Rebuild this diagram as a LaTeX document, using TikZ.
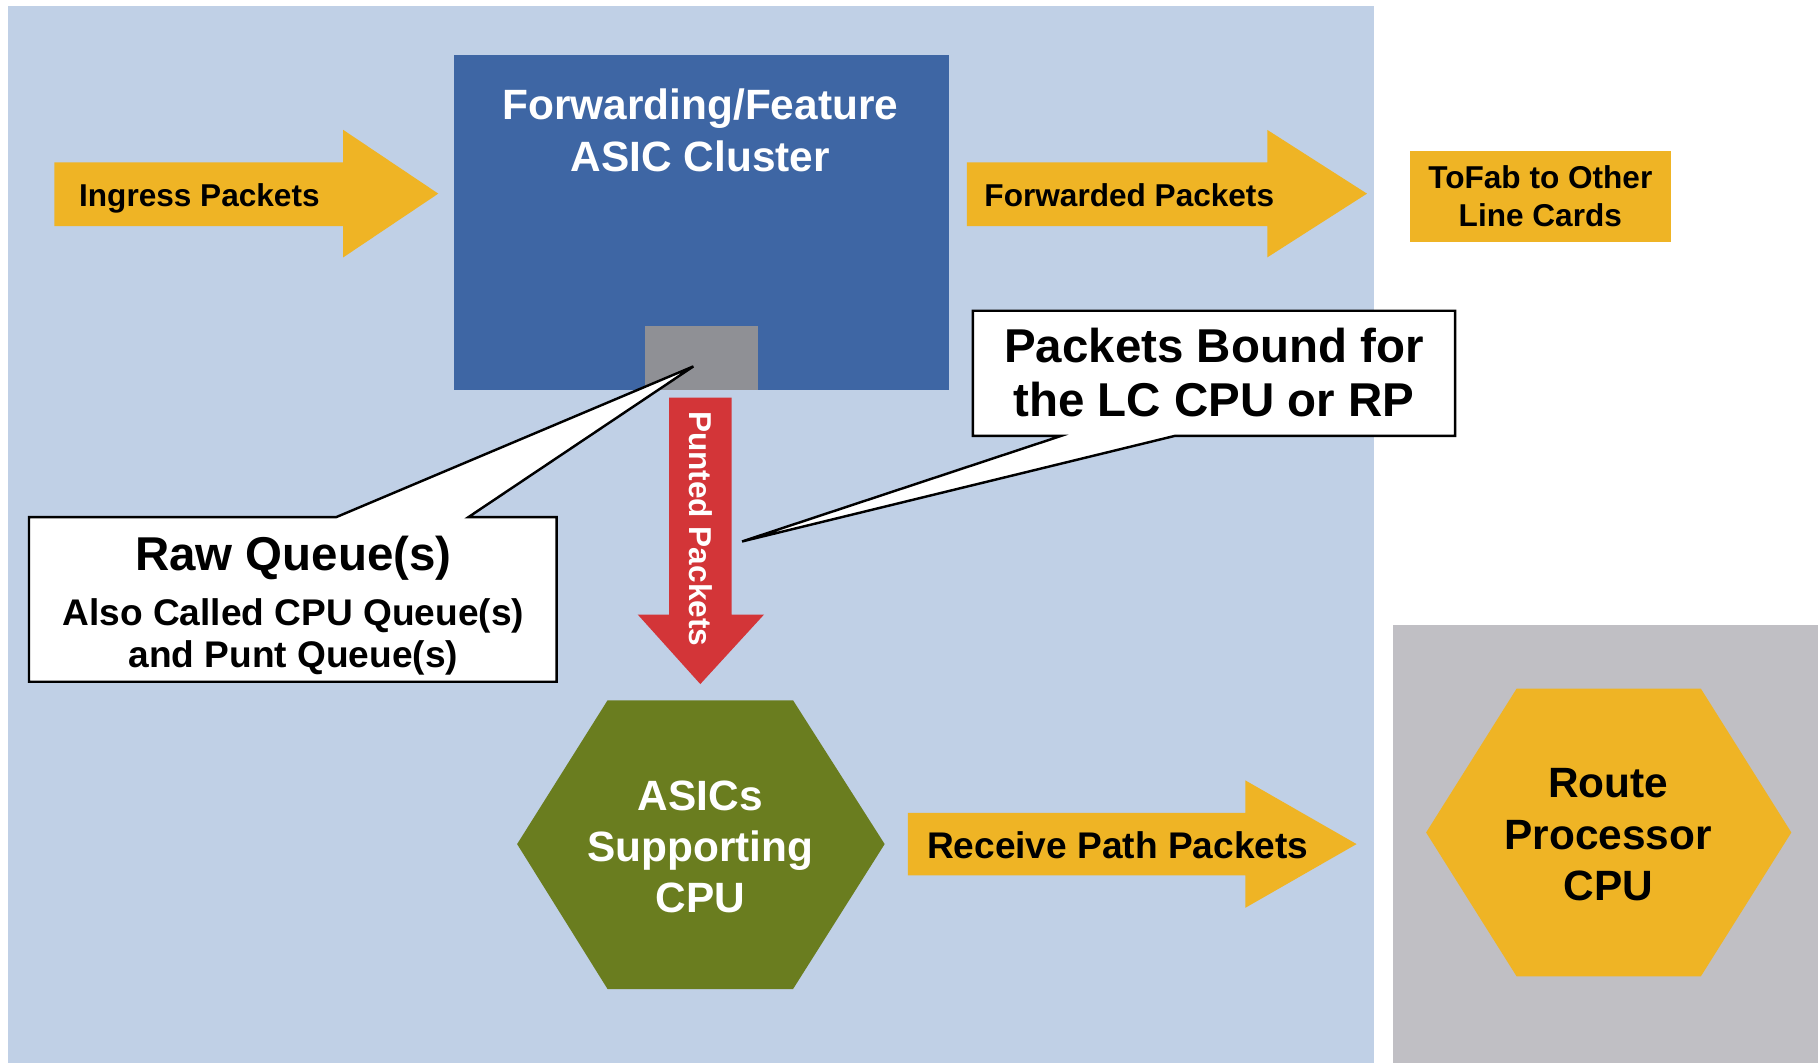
\documentclass[tikz,border=0pt]{standalone}
\usepackage{fontspec}
\setmainfont{Liberation Sans}
\usetikzlibrary{positioning}

\definecolor{fondbleu}{RGB}{192,208,230}
\definecolor{fondgris}{RGB}{192,191,196}
\definecolor{bleuasic}{RGB}{62,102,164}
\definecolor{grisqueue}{RGB}{143,144,149}
\definecolor{orangefl}{RGB}{239,180,37}
\definecolor{rougefl}{RGB}{211,53,56}
\definecolor{vertcpu}{RGB}{106,125,31}

\begin{document}
\begin{tikzpicture}[x=0.2mm, y=-0.2mm,
  petit/.style={font=\fontsize{15.5}{18.8}\selectfont\bfseries},
  moyen/.style={font=\fontsize{18.2}{20.5}\selectfont\bfseries},
  grand/.style={font=\fontsize{20.8}{25.2}\selectfont\bfseries},
  tresgrand/.style={font=\fontsize{23.3}{26.7}\selectfont\bfseries},
  bulle/.style={fill=white, draw=black, line width=1.2pt, line join=miter}]

% Cadre
\useasboundingbox (0,0) rectangle (1568,917);
\fill[white] (0,0) rectangle (1568,917);

% Fonds
\fill[fondbleu] (7,5) rectangle (1185,917);
\fill[fondgris] (1201,539) rectangle (1568,917);

% Cluster ASIC
\node[fill=bleuasic, inner sep=0, minimum width=85.4mm, minimum height=57.8mm, anchor=north west] (cluster) at (391,47) {};
\node[fill=grisqueue, inner sep=0, minimum width=19.4mm, minimum height=11mm, anchor=south] (queue) at (cluster.south) {};
\node[grand, white, align=center] (titre) at (604,112.5) {Forwarding/Feature\\ASIC Cluster};

% Fleche d'entree
\fill[orangefl] (47,140) -- (296,140) -- (296,112) -- (378,167) -- (296,222) -- (296,195) -- (47,195) -- cycle;
\node[petit, anchor=base] (ingress) at (172,178) {Ingress Packets};

% Fleche vers la fabric
\fill[orangefl] (834,140) -- (1093,140) -- (1093,112) -- (1179,167) -- (1093,222) -- (1093,195) -- (834,195) -- cycle;
\node[petit, anchor=base] (forward) at (974,178) {Forwarded Packets};
\node[petit, fill=orangefl, align=center, inner sep=0, minimum width=45mm, minimum height=15.8mm] (tofab) at (1328.5,169.5) {ToFab to Other\\Line Cards};

% Fleche punt
\fill[rougefl] (577,343) -- (631,343) -- (631,530) -- (659,530) -- (604,590) -- (550,530) -- (577,530) -- cycle;
\node[petit, white, rotate=-90] (punted) at (604,456) {Punted Packets};

% CPU des ASICs
\fill[vertcpu] (524,604) -- (684,604) -- (763,728) -- (684,853) -- (524,853) -- (446,728) -- cycle;
\node[grand, white, align=center] (asics) at (604,730.5) {ASICs\\Supporting\\CPU};

% Fleche receive path
\fill[orangefl] (783,701) -- (1074,701) -- (1074,673) -- (1170,728) -- (1074,783) -- (1074,755) -- (783,755) -- cycle;
\node[moyen, anchor=base] (receive) at (964,740.5) {Receive Path Packets};

% Route processor
\fill[orangefl] (1308,594) -- (1467,594) -- (1545,718) -- (1467,842) -- (1308,842) -- (1230,718) -- cycle;
\node[grand, align=center] (rp) at (1387,720) {Route\\Processor\\CPU};

% Bulle raw queue
\coordinate (pointeraw) at (598,316);
\draw[bulle] (25,446) -- (290,446) -- (pointeraw) -- (404,446) -- (480,446) -- (480,588) -- (25,588) -- cycle;
\node[tresgrand, anchor=base] (raw) at (253,491.7) {Raw Queue(s)};
\node[moyen, align=center] (rawsub) at (253,549) {Also Called CPU Queue(s)\\and Punt Queue(s)};

% Bulle paquets pour le CPU
\coordinate (pointebound) at (640,467);
\draw[bulle] (839,268) -- (1255,268) -- (1255,376) -- (1013,376) -- (pointebound) -- (915,376) -- (839,376) -- cycle;
\node[tresgrand, align=center] (bound) at (1047,321.5) {Packets Bound for\\the LC CPU or RP};

\end{tikzpicture}
\end{document}
